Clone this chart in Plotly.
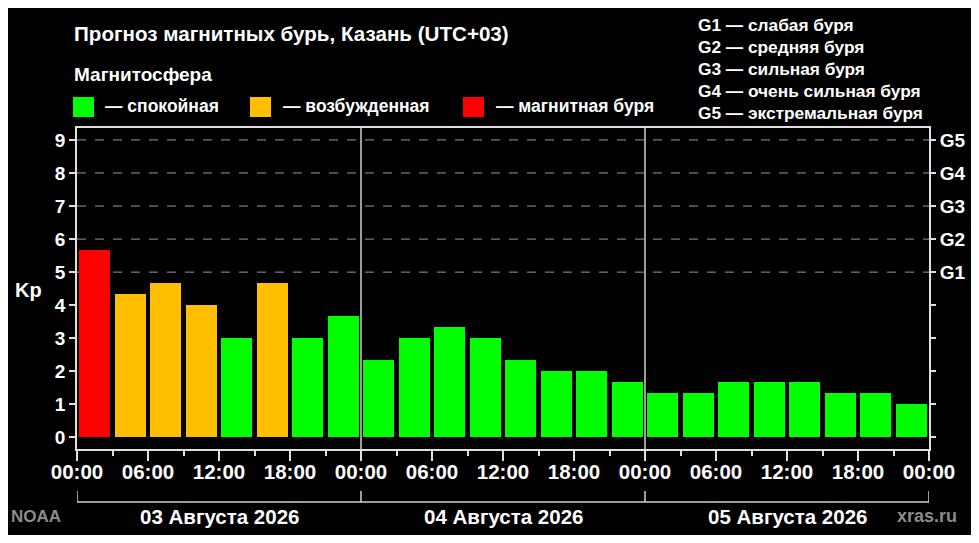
import plotly.graph_objects as go
from datetime import datetime, timedelta

# Kp forecast, 3-hour intervals, Kazan local time (UTC+03)
start = datetime(2026, 8, 3, 0, 0)
kp_values = [5.67, 4.33, 4.67, 4.0, 3.0, 4.67, 3.0, 3.67,
             2.33, 3.0, 3.33, 3.0, 2.33, 2.0, 2.0, 1.67,
             1.33, 1.33, 1.67, 1.67, 1.67, 1.33, 1.33, 1.0]
day_labels = ["03 Августа 2026", "04 Августа 2026", "05 Августа 2026"]
storm_levels = [5, 6, 7, 8, 9]
storm_names = ["G1", "G2", "G3", "G4", "G5"]
storm_descr = ["G1 — слабая буря", "G2 — средняя буря", "G3 — сильная буря",
               "G4 — очень сильная буря", "G5 — экстремальная буря"]
legend_names = ["— спокойная", "— возбужденная", "— магнитная буря"]

GREEN, ORANGE, RED = "#00ff00", "#ffbf00", "#ff0000"
FONT = "Liberation Sans, Arial, sans-serif"

# the page body has an 8px margin, so the figure is drawn 8px in
OFF = 8
W, H = 979 - 2 * OFF, 543 - 2 * OFF
# plot area, in window pixels
L, R, T, B = 77, 929, 128, 449


def px(x):
    return (x - L) / (R - L)


def py(y):
    return (B - y) / (B - T)


def kp_color(v):
    if v >= 5:
        return RED
    if v >= 4:
        return ORANGE
    return GREEN


x_mid = [start + timedelta(hours=3 * i + 1.5) for i in range(len(kp_values))]
end = start + timedelta(days=len(day_labels))

fig = go.Figure()
fig.add_trace(go.Bar(
    x=x_mid, y=kp_values,
    width=3 * 3600 * 1000 * 0.885,
    marker=dict(color=[kp_color(v) for v in kp_values], line_width=0),
    hovertemplate="%{x|%d.%m %H:%M}<br>Kp %{y}<extra></extra>",
    showlegend=False,
))

shapes = []
# dashed grid lines at storm levels
for lv in storm_levels:
    shapes.append(dict(type="line", xref="paper", yref="y", x0=0, x1=1, y0=lv, y1=lv,
                       line=dict(color="#9a9a9a", width=1, dash="dash"), layer="below"))
# day separators
for d in range(1, len(day_labels)):
    t = start + timedelta(days=d)
    shapes.append(dict(type="line", xref="x", yref="paper", x0=t, x1=t, y0=0, y1=1,
                       line=dict(color="#d0d0d0", width=1.5), layer="above"))
# day bracket under the axis
shapes.append(dict(type="line", xref="x", yref="paper", x0=start, x1=end,
                   y0=py(502), y1=py(502), line=dict(color="#d0d0d0", width=1.5)))
for d in range(len(day_labels) + 1):
    t = start + timedelta(days=d)
    shapes.append(dict(type="line", xref="x", yref="paper", x0=t, x1=t,
                       y0=py(502), y1=py(491), line=dict(color="#d0d0d0", width=1.5)))
# legend squares
for xs, col in zip([73, 250, 463], [GREEN, ORANGE, RED]):
    shapes.append(dict(type="rect", xref="paper", yref="paper",
                       x0=px(xs), x1=px(xs + 21), y0=py(97), y1=py(117),
                       fillcolor=col, line_width=0))

annotations = []


def note(text, x, y, size, xanchor="left", color="white", bold=True):
    annotations.append(dict(
        text=text, xref="paper", yref="paper", x=px(x), y=py(y),
        xanchor=xanchor, yanchor="middle", showarrow=False,
        font=dict(family=FONT, size=size, color=color, weight=700 if bold else 400),
    ))


note("Прогноз магнитных бурь, Казань (UTC+03)", 72, 33, 20.6)
note("Магнитосфера", 72, 74, 19)
for xs, name in zip([103, 281, 494], legend_names):
    note(name, xs, 106, 17.5)
for i, txt in enumerate(storm_descr):
    note(txt, 696, 25 + 22 * i, 17.3)
note("Kp", 13, 290, 20)
for d, lab in enumerate(day_labels):
    mid = start + timedelta(days=d, hours=12)
    annotations.append(dict(
        text=lab, xref="x", yref="paper", x=mid, y=py(516),
        xanchor="center", yanchor="middle", showarrow=False,
        font=dict(family=FONT, size=20.5, color="white", weight=700),
    ))
note("NOAA", 9, 516, 17, color="#8c8c8c")
note("xras.ru", 959, 516, 18, xanchor="right", color="#8c8c8c")

axis_font = dict(family=FONT, size=19, color="white", weight=700)
yrange = [-0.35, 9.36]

fig.update_layout(
    width=W, height=H,
    margin=dict(l=L - OFF, r=W + OFF - R, t=T - OFF, b=H + OFF - B, autoexpand=False),
    paper_bgcolor="black", plot_bgcolor="black",
    bargap=0,
    shapes=shapes,
    annotations=annotations,
    xaxis=dict(
        type="date", range=[start, end], automargin=False,
        dtick=6 * 3600 * 1000, tick0=start, tickformat="%H:%M",
        ticks="outside", ticklen=10, tickwidth=1.5, tickcolor="#e0e0e0",
        minor=dict(dtick=3 * 3600 * 1000, ticks="outside", ticklen=5,
                   tickwidth=1.5, tickcolor="#e0e0e0", showgrid=False),
        showgrid=False, zeroline=False,
        showline=True, linecolor="#e0e0e0", linewidth=1.5, mirror=True,
        tickfont=dict(family=FONT, size=20.5, color="white", weight=700),
        ticklabelstandoff=-6,
        fixedrange=True,
    ),
    yaxis=dict(
        range=yrange, tickvals=list(range(10)), automargin=False,
        ticks="outside", ticklen=6, tickwidth=1.5, tickcolor="#e0e0e0",
        showgrid=False, zeroline=False,
        showline=True, linecolor="#e0e0e0", linewidth=1.5, mirror=True,
        tickfont=axis_font, fixedrange=True,
    ),
    yaxis2=dict(
        range=yrange, overlaying="y", side="right", automargin=False,
        tickvals=list(range(10)),
        ticktext=[""] * storm_levels[0] + storm_names,
        ticks="outside", ticklen=6, tickwidth=1.5, tickcolor="#e0e0e0",
        showgrid=False, zeroline=False, showline=False,
        tickfont=axis_font, fixedrange=True,
    ),
)
fig.add_trace(go.Scatter(x=[start], y=[0], yaxis="y2", mode="markers",
                         marker=dict(opacity=0), hoverinfo="skip", showlegend=False))

fig.write_html("out.html")
